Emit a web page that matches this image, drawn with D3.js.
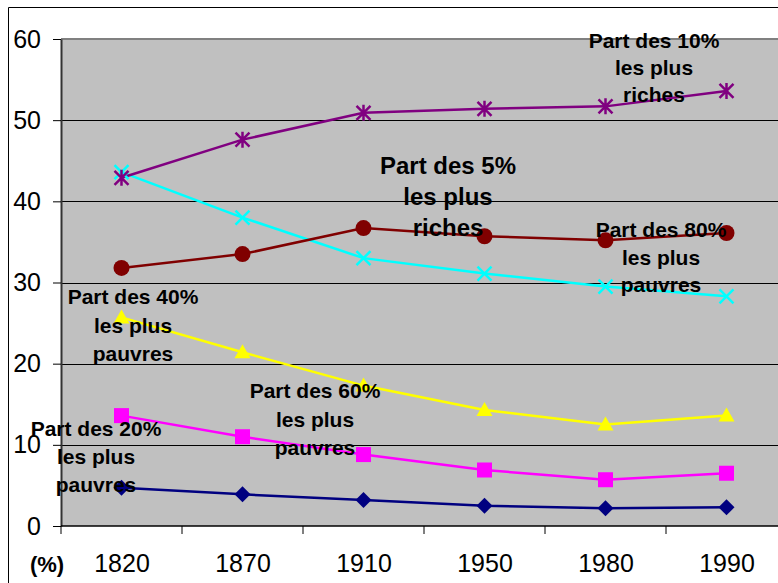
<!DOCTYPE html>
<html>
<head>
<meta charset="utf-8">
<script src="https://cdn.jsdelivr.net/npm/d3@7"></script>
<style>
  body { margin: 0; background: #fff; }
  svg { display: block; font-family: "Liberation Sans", Arial, sans-serif; }
</style>
</head>
<body>
<svg id="chart" width="778" height="583"></svg>
<script>
// years on the x axis
var years = ["1820", "1870", "1910", "1950", "1980", "1990"];

// shares of world income (%)
var top10 = [42.9, 47.6, 50.9, 51.4, 51.7, 53.6];
var top5 = [31.8, 33.5, 36.7, 35.7, 35.2, 36.1];
var bottom80 = [43.6, 38.0, 33.0, 31.1, 29.5, 28.3];
var bottom40 = [25.7, 21.4, 17.3, 14.3, 12.5, 13.6];
var bottom60 = [13.6, 11.0, 8.8, 6.9, 5.7, 6.5];
var bottom20 = [4.7, 3.9, 3.2, 2.5, 2.2, 2.3];

var yTicks = [0, 10, 20, 30, 40, 50, 60];

var series = [
  {values: bottom20, color: "#000080", marker: "diamond"},
  {values: bottom60, color: "#FF00FF", marker: "square"},
  {values: bottom40, color: "#FFFF00", marker: "triangle"},
  {values: bottom80, color: "#00FFFF", marker: "x"},
  {values: top5, color: "#800000", marker: "circle"},
  {values: top10, color: "#800080", marker: "star"}
];

// annotation text, placed by hand like in the original
var notes = [
  {lines: ["Part des 10%", "les plus", "riches"], x: 654, y: 48, size: 21, gap: 27},
  {lines: ["Part des 5%", "les plus", "riches"], x: 448, y: 174, size: 24, gap: 31},
  {lines: ["Part des 80%", "les plus", "pauvres"], x: 661, y: 237, size: 21, gap: 27.5},
  {lines: ["Part des 40%", "les plus", "pauvres"], x: 133, y: 304, size: 21, gap: 28.5},
  {lines: ["Part des 60%", "les plus", "pauvres"], x: 315, y: 398, size: 21, gap: 28.5},
  {lines: ["Part des 20%", "les plus", "pauvres"], x: 96, y: 436, size: 21, gap: 28}
];

var svg = d3.select("#chart");

var plotLeft = 61, plotRight = 787, plotTop = 39, plotBottom = 526;

var x = d3.scaleBand().domain(years).range([plotLeft, plotRight]);
var y = d3.scaleLinear().domain([0, 60]).range([plotBottom, plotTop]);

// outer frame
svg.append("path")
    .attr("d", "M8.5,583 V7.5 H778")
    .attr("fill", "none")
    .attr("stroke", "#000")
    .attr("stroke-width", 1);

// plot area
svg.append("rect")
    .attr("x", plotLeft).attr("y", plotTop)
    .attr("width", plotRight - plotLeft).attr("height", plotBottom - plotTop)
    .attr("fill", "#C0C0C0");

svg.append("line")
    .attr("x1", plotLeft).attr("x2", plotRight)
    .attr("y1", plotTop).attr("y2", plotTop)
    .attr("stroke", "#808080").attr("stroke-width", 2);

// gridlines
svg.append("g")
    .selectAll("line")
    .data(yTicks.filter(function(d) { return d > 0 && d < 60; }))
    .join("line")
    .attr("x1", plotLeft).attr("x2", plotRight)
    .attr("y1", function(d) { return Math.round(y(d)) + 0.5; })
    .attr("y2", function(d) { return Math.round(y(d)) + 0.5; })
    .attr("stroke", "#000")
    .attr("stroke-width", 1);

// y axis
var yAxis = svg.append("g")
    .attr("transform", "translate(" + plotLeft + ",0)")
    .call(d3.axisLeft(y).tickValues(yTicks).tickSize(8).tickPadding(12).tickSizeOuter(0));
yAxis.select(".domain").attr("stroke", "#333").attr("stroke-width", 2);
yAxis.selectAll(".tick line").attr("stroke", "#000");
yAxis.selectAll("text").attr("font-size", 25).attr("fill", "#000")
    .attr("font-family", "Liberation Sans, Arial, sans-serif");

// x axis: tick marks between categories, labels centred
var edges = years.map(function(d) { return x(d); }).concat([plotRight]);
var xg = svg.append("g");
xg.append("line")
    .attr("x1", plotLeft).attr("x2", plotRight)
    .attr("y1", plotBottom).attr("y2", plotBottom)
    .attr("stroke", "#000").attr("stroke-width", 1.5);
xg.selectAll(".edge")
    .data(edges)
    .join("line")
    .attr("class", "edge")
    .attr("x1", function(d) { return d; })
    .attr("x2", function(d) { return d; })
    .attr("y1", plotBottom).attr("y2", plotBottom + 8)
    .attr("stroke", "#000");

var xPoint = d3.scalePoint().domain(years)
    .range([x(years[0]) + x.bandwidth() / 2, x(years[years.length - 1]) + x.bandwidth() / 2]);
var xAxis = svg.append("g")
    .attr("transform", "translate(0," + plotBottom + ")")
    .call(d3.axisBottom(xPoint).tickSize(0).tickPadding(28));
xAxis.select(".domain").remove();
xAxis.selectAll("text").attr("font-size", 25).attr("fill", "#000")
    .attr("font-family", "Liberation Sans, Arial, sans-serif");

svg.append("text")
    .attr("x", 47).attr("y", 572)
    .attr("text-anchor", "middle")
    .attr("font-size", 22)
    .attr("font-weight", "bold")
    .text("(%)");

function cx(i) { return x(years[i]) + x.bandwidth() / 2; }

var line = d3.line()
    .x(function(d, i) { return cx(i); })
    .y(function(d) { return y(d); });

var symbols = {
  diamond: function(g, c) {
    g.append("path").attr("d", "M0,-8L8,0L0,8L-8,0Z").attr("fill", c);
  },
  square: function(g, c) {
    g.append("rect").attr("x", -7.5).attr("y", -7.5).attr("width", 15).attr("height", 15).attr("fill", c);
  },
  triangle: function(g, c) {
    g.append("path").attr("d", "M0,-8L8,6L-8,6Z").attr("fill", c);
  },
  x: function(g, c) {
    g.append("path").attr("d", "M-7,-7L7,7M-7,7L7,-7").attr("stroke", c).attr("stroke-width", 2.5).attr("fill", "none");
  },
  circle: function(g, c) {
    g.append("circle").attr("r", 8).attr("fill", c);
  },
  star: function(g, c) {
    g.append("path").attr("d", "M-7,-7L7,7M-7,7L7,-7M0,-8V8").attr("stroke", c).attr("stroke-width", 2.5).attr("fill", "none");
  }
};

series.forEach(function(s) {
  svg.append("path")
      .datum(s.values)
      .attr("d", line)
      .attr("fill", "none")
      .attr("stroke", s.color)
      .attr("stroke-width", 2.5);
});

series.forEach(function(s) {
  svg.append("g")
      .selectAll("g")
      .data(s.values)
      .join("g")
      .attr("transform", function(d, i) { return "translate(" + cx(i) + "," + y(d) + ")"; })
      .each(function() { symbols[s.marker](d3.select(this), s.color); });
});

// annotations
notes.forEach(function(n) {
  svg.append("g")
      .selectAll("text")
      .data(n.lines)
      .join("text")
      .attr("x", n.x)
      .attr("y", function(d, i) { return n.y + i * n.gap; })
      .attr("text-anchor", "middle")
      .attr("font-size", n.size)
      .attr("font-weight", "bold")
      .attr("fill", "#000")
      .text(function(d) { return d; });
});
</script>
</body>
</html>
